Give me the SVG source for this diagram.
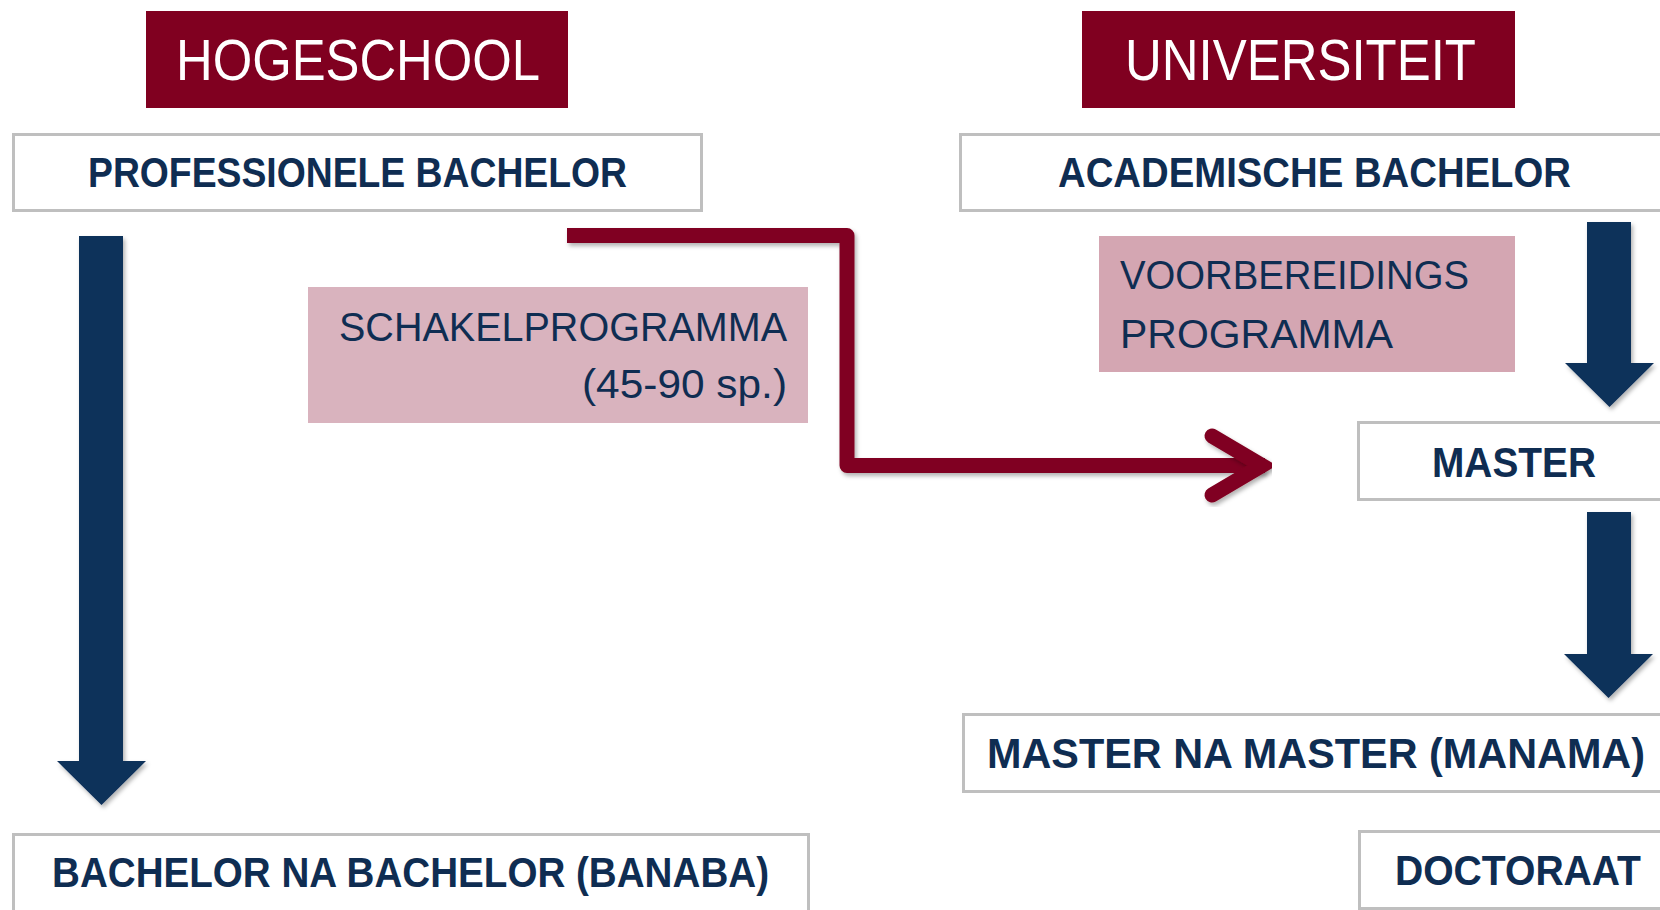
<svg xmlns="http://www.w3.org/2000/svg" width="1660" height="910" viewBox="0 0 1660 910">
<defs>
<style>
.hdr{fill:#800020}
.hdrt{font-family:"Liberation Sans",Arial,sans-serif;font-size:58px;fill:#ffffff}
.box{fill:#ffffff;stroke:#BFBFBF;stroke-width:3}
.bt{font-family:"Liberation Sans",Arial,sans-serif;font-size:42px;font-weight:bold;fill:#0F2D52}
.pt{font-family:"Liberation Sans",Arial,sans-serif;font-size:40px;fill:#0F2D52}
.arr{fill:#10305A;filter:url(#sh)}
.conn{fill:none;stroke:#800020;stroke-width:15;filter:url(#sh)}
</style>
<filter id="sh" x="-20%" y="-20%" width="140%" height="140%">
<feDropShadow dx="2" dy="3" stdDeviation="2" flood-color="#000000" flood-opacity="0.3"/>
</filter>
</defs>
<rect width="1660" height="910" fill="#ffffff"/>

<g id="hogeschool">
<rect class="hdr" x="146" y="11" width="422" height="97"/>
<text class="hdrt" x="176" y="80" textLength="364" lengthAdjust="spacingAndGlyphs">HOGESCHOOL</text>
</g>
<g id="universiteit">
<rect class="hdr" x="1082" y="11" width="433" height="97"/>
<text class="hdrt" x="1125" y="80" textLength="351" lengthAdjust="spacingAndGlyphs">UNIVERSITEIT</text>
</g>

<g id="prof-bachelor">
<rect class="box" x="13.5" y="134.5" width="688" height="76"/>
<text class="bt" x="88" y="187" textLength="539" lengthAdjust="spacingAndGlyphs">PROFESSIONELE BACHELOR</text>
</g>
<g id="acad-bachelor">
<rect class="box" x="960.5" y="134.5" width="720" height="76"/>
<text class="bt" x="1058" y="187" textLength="513" lengthAdjust="spacingAndGlyphs">ACADEMISCHE BACHELOR</text>
</g>

<g id="schakelprogramma">
<rect x="308" y="287" width="500" height="136" fill="#D9B3BE"/>
<text class="pt" x="339" y="341" textLength="448" lengthAdjust="spacingAndGlyphs">SCHAKELPROGRAMMA</text>
<text class="pt" x="582" y="398" textLength="205" lengthAdjust="spacingAndGlyphs">(45-90 sp.)</text>
</g>
<g id="voorbereidingsprogramma">
<rect x="1099" y="236" width="416" height="136" fill="#D4A6B2"/>
<text class="pt" x="1120" y="289" textLength="349" lengthAdjust="spacingAndGlyphs">VOORBEREIDINGS</text>
<text class="pt" x="1120" y="348" textLength="273" lengthAdjust="spacingAndGlyphs">PROGRAMMA</text>
</g>

<g id="master">
<rect class="box" x="1358.5" y="422.5" width="320" height="77"/>
<text class="bt" x="1432" y="477" textLength="164" lengthAdjust="spacingAndGlyphs">MASTER</text>
</g>
<g id="manama">
<rect class="box" x="963.5" y="714.5" width="720" height="77"/>
<text class="bt" x="987" y="768" textLength="658" lengthAdjust="spacingAndGlyphs">MASTER NA MASTER (MANAMA)</text>
</g>
<g id="doctoraat">
<rect class="box" x="1359.5" y="831.5" width="320" height="77"/>
<text class="bt" x="1395" y="885" textLength="246" lengthAdjust="spacingAndGlyphs">DOCTORAAT</text>
</g>
<g id="banaba">
<rect class="box" x="13.5" y="834.5" width="795" height="90"/>
<text class="bt" x="52" y="887" textLength="717" lengthAdjust="spacingAndGlyphs">BACHELOR NA BACHELOR (BANABA)</text>
</g>

<g id="connectors">
<polygon class="arr" points="79,236 123,236 123,761 146,761 101.5,805 57,761 79,761"/>
<polygon class="arr" points="1587,222 1631,222 1631,363 1654,363 1609.5,407 1565,363 1587,363"/>
<polygon class="arr" points="1587,512 1631,512 1631,654 1653,654 1608.5,698 1564,654 1587,654"/>
<path class="conn" d="M567,235.5 H847 V465.5 H1265" stroke-linejoin="round"/>
<path class="conn" d="M1212,436 L1262,465.5 L1212,495" stroke-linecap="round" stroke-linejoin="miter" stroke-miterlimit="10"/>
</g>
</svg>
